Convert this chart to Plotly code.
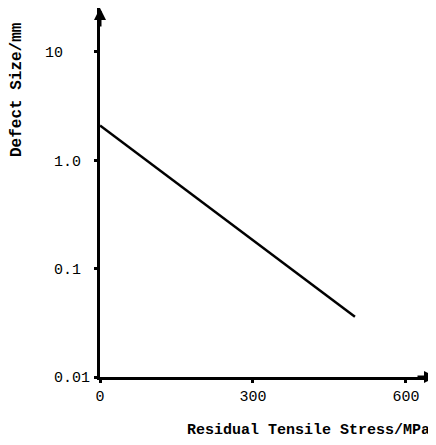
import plotly.graph_objects as go

# Data
stress = [0, 500]                 # Residual tensile stress, MPa
defect = [2.1, 0.036]             # Defect size, mm
x_tickvals = [0, 300, 600]
x_ticktext = ["0", "300", "600"]
y_tickvals = [10, 1.0, 0.1, 0.01]
y_ticktext = ["10\u00a0\u00a0\u00a0", "1.0\u00a0", "0.1\u00a0", "0.01"]
x_title = "Residual Tensile Stress/MPa"
y_title = "Defect Size/mm"

# page body has an 8px margin; figure sized to fill the rest of the window
OFF = 8
W, H = 436 - OFF, 445 - OFF
L, R, T, B = 100 - OFF, 0, 0, 68
x_range = [0, 659]
y_range = [-2, 1.406]

fig = go.Figure()
fig.add_trace(go.Scatter(x=stress, y=defect, mode="lines",
                         line=dict(color="black", width=2.5),
                         showlegend=False, hoverinfo="skip"))

mono = "Liberation Mono"
fig.update_layout(
    width=W, height=H,
    margin=dict(l=L, r=R, t=T, b=B, pad=0, autoexpand=False),
    paper_bgcolor="white", plot_bgcolor="white",
    font=dict(family=mono, color="black", size=15),
    xaxis=dict(range=x_range, tickvals=x_tickvals, ticktext=x_ticktext,
               showgrid=False, zeroline=False, showline=True, automargin=False,
               linecolor="black", linewidth=3,
               ticks="outside", ticklen=3, tickwidth=3, tickcolor="black",
               tickfont=dict(family=mono, size=15), ticklabelstandoff=0),
    yaxis=dict(type="log", range=y_range, tickvals=y_tickvals, ticktext=y_ticktext,
               showgrid=False, zeroline=False, showline=True, automargin=False,
               linecolor="black", linewidth=3,
               ticks="outside", ticklen=3, tickwidth=3, tickcolor="black",
               tickfont=dict(family=mono, size=15), ticklabelstandoff=1),
)

# Arrowheads on axes
fig.add_annotation(x=0, y=y_range[1], xref="x", yref="y", ax=0, ay=20,
                   showarrow=True, arrowhead=2, arrowsize=0.8, arrowwidth=3,
                   arrowcolor="black", text="")
fig.add_annotation(x=x_range[1], y=y_range[0], xref="x", yref="y", ax=-20, ay=0,
                   showarrow=True, arrowhead=2, arrowsize=0.8, arrowwidth=3,
                   arrowcolor="black", text="")

PW, PH = W - L - R, H - T - B
# Axis titles
fig.add_annotation(text="<b>" + x_title + "</b>", xref="paper", yref="paper",
                   x=(185 - OFF - L) / PW, y=-(430 - OFF - (H - B)) / PH,
                   xanchor="left", yanchor="middle", showarrow=False,
                   font=dict(family=mono, size=15, color="black"))
fig.add_annotation(text="<b>" + y_title + "</b>", xref="paper", yref="paper",
                   x=-(L - (17 - OFF)) / PW, y=((H - B) - (90 - OFF)) / PH,
                   xanchor="center", yanchor="middle", textangle=-90, showarrow=False,
                   font=dict(family=mono, size=16, color="black"))

fig.write_html("out.html")
